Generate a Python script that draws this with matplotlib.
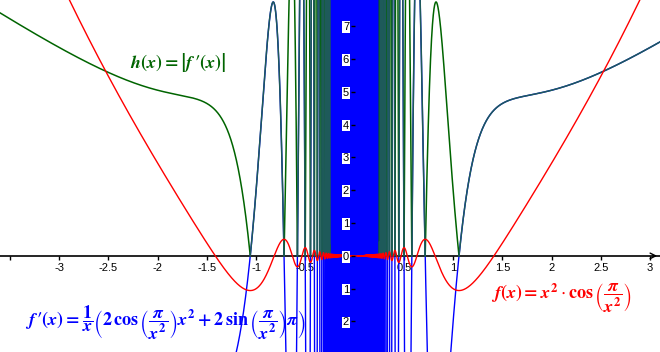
import numpy as np
import matplotlib
matplotlib.use("Agg")
import matplotlib.pyplot as plt

# Font setup: sans for ticks, bold STIX for the formulas
plt.rcParams['font.family'] = ['Liberation Sans', 'DejaVu Sans']
plt.rcParams['mathtext.fontset'] = 'custom'
plt.rcParams['mathtext.rm'] = 'STIXGeneral:bold'
plt.rcParams['mathtext.it'] = 'STIXGeneral:italic:bold'
plt.rcParams['mathtext.bf'] = 'STIXGeneral:bold'
plt.rcParams['mathtext.fallback'] = 'stix'

# Tick positions and labels
x_ticks = [-3.5, -3, -2.5, -2, -1.5, -1, -0.5, 0, 0.5, 1, 1.5, 2, 2.5, 3]
x_tick_labels = ['', '-3', '-2.5', '-2', '-1.5', '-1', '-0.5', '', '0.5', '1', '1.5', '2', '2.5', '3']
y_ticks = [-2, -1, 0, 1, 2, 3, 4, 5, 6, 7]
y_tick_labels = ['2', '1', '0', '1', '2', '3', '4', '5', '6', '7']

# Labels of the three curves
f_label = r"$f(x) = x^2\cdot\cos\left(\dfrac{\pi}{x^2}\right)$"
fp_label = (r"$f\,′(x) = \dfrac{1}{x}\left(2\,\cos\left(\dfrac{\pi}{x^2}\right)x^2"
            r" + 2\,\sin\left(\dfrac{\pi}{x^2}\right)\pi\right)$")
h_label = r"$h(x) = \left|f\,′(x)\right|$"

red = '#ff0000'
blue = '#0000ff'
green = '#006400'
teal = '#1e5a5a'

# Sample the functions shown in the labels
x = np.linspace(-3.7, 3.2, 400001)
x = x[x != 0]
f = x**2 * np.cos(np.pi / x**2)
fp = (2 * np.cos(np.pi / x**2) * x**2 + 2 * np.sin(np.pi / x**2) * np.pi) / x
fp = np.clip(fp, -60, 60)
h = np.abs(fp)
outer = np.abs(x) >= 0.25

fig = plt.figure(figsize=(6.6, 3.52), dpi=100)
ax = fig.add_axes([0, 0, 1, 1])

# h near the origin sits under f', outside it is drawn on top
# (darker where it lies on f')
ax.plot(x, np.where(outer, np.nan, h), color=green, lw=1.1, zorder=1.5)
ax.plot(x, fp, color=blue, lw=1.0, zorder=2)
ax.plot(x, np.where((fp < 0) & outer, h, np.nan), color=green, lw=1.1, zorder=3)
ax.plot(x, np.where((fp >= 0) & outer, h, np.nan), color=teal, lw=1.1, zorder=3)
ax.plot(x, f, color=red, lw=1.0, zorder=4)

ax.set_xlim(-3.60, 3.10)
ax.set_ylim(-2.93, 7.80)

# Axes through the origin
for side in ['top', 'right']:
    ax.spines[side].set_visible(False)
ax.spines['left'].set_position('zero')
ax.spines['bottom'].set_position('zero')
ax.spines['left'].set_zorder(1)
ax.spines['bottom'].set_zorder(1)
ax.spines['left'].set_linewidth(1.2)
ax.spines['bottom'].set_linewidth(1.2)

ax.set_xticks(x_ticks)
ax.set_xticklabels(x_tick_labels)
ax.set_yticks(y_ticks)
ax.set_yticklabels(y_tick_labels)
ax.tick_params(axis='x', direction='out', length=3, width=1, labelsize=8, pad=2)
ax.tick_params(axis='y', direction='out', length=3, width=1, labelsize=8, pad=1)
ax.xaxis.set_zorder(1)
ax.yaxis.set_zorder(6)
for lab in ax.get_yticklabels():
    lab.set_bbox(dict(facecolor='white', edgecolor='none', pad=0.6))

# Arrow at the right end of the x axis
ax.annotate('', xy=(1.0, 0), xytext=(0.985, 0),
            xycoords=('axes fraction', 'data'), textcoords=('axes fraction', 'data'),
            arrowprops=dict(arrowstyle='->', color='black', lw=1.0), zorder=1)

# Formula labels
ax.text(-2.28, 5.9, h_label, color=green, fontsize=13, ha='left', va='center', zorder=7)
ax.text(-3.35, -2.05, fp_label, color=blue, fontsize=13, ha='left', va='center', zorder=7)
ax.text(1.38, -1.3, f_label, color=red, fontsize=13, ha='left', va='center', zorder=7)

fig.savefig('out.png', dpi=100)
